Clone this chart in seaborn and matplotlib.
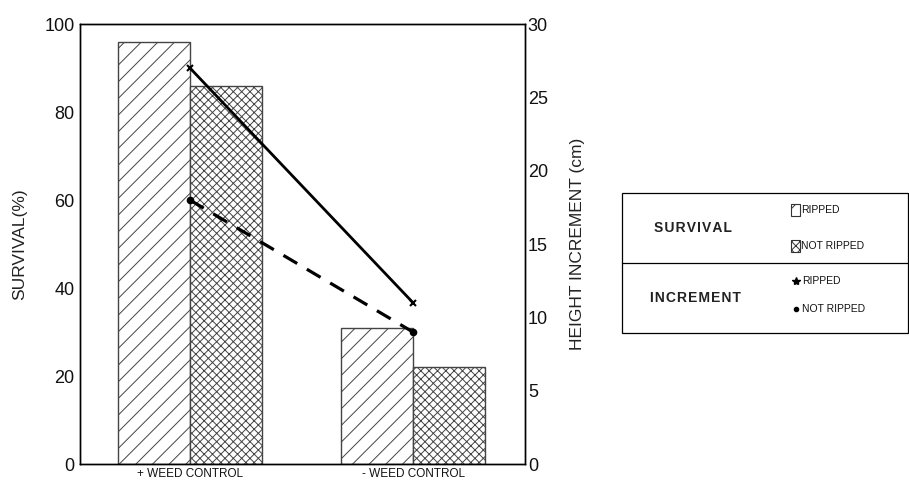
import matplotlib
matplotlib.use("Agg")
import matplotlib.pyplot as plt
import seaborn as sns
import pandas as pd
from matplotlib.patches import Rectangle
from matplotlib.lines import Line2D

categories = ["+ WEED CONTROL", "- WEED CONTROL"]
treatments = ["RIPPED", "NOT RIPPED"]
survival_ripped = [96, 31]
survival_not_ripped = [86, 22]
increment_ripped = [27, 11]
increment_not_ripped = [18, 9]
left_ticks = [0, 20, 40, 60, 80, 100]
right_ticks = [0, 5, 10, 15, 20, 25, 30]

sns.set_theme(style="white")
plt.rcParams['font.family'] = ['Liberation Sans', 'DejaVu Sans']
plt.rcParams['hatch.linewidth'] = 0.7

surv = pd.DataFrame({
    "cat": categories * 2,
    "treat": [treatments[0]] * 2 + [treatments[1]] * 2,
    "val": survival_ripped + survival_not_ripped,
})
inc = pd.DataFrame({
    "cat": categories * 2,
    "treat": [treatments[0]] * 2 + [treatments[1]] * 2,
    "val": increment_ripped + increment_not_ripped,
})

fig = plt.figure(figsize=(9.09, 4.87), dpi=100)
ax = fig.add_axes([0.088, 0.047, 0.4896, 0.9037])
sns.barplot(data=surv, x="cat", y="val", hue="treat", order=categories,
            hue_order=treatments, palette=["white", "white"], width=0.646,
            edgecolor="black", linewidth=1.0, legend=False, ax=ax, errorbar=None)
bars = [p for p in ax.patches if isinstance(p, Rectangle)]
hatches = ["//", "//", "xxxx", "xxxx"]
for p, h in zip(bars, hatches):
    p.set_hatch(h)
    p.set_edgecolor("#444444")

ax.set_ylim(0, 100)
ax.set_yticks(left_ticks)
ax.set_ylabel("SURVIVAL(%)", fontsize=12.5, color="#222222", labelpad=12)
ax.set_xlabel("")
ax.tick_params(axis="y", labelsize=13, length=0, pad=4, colors="#111111")
ax.tick_params(axis="x", labelsize=8.5, length=0, pad=3, colors="#111111")

ax2 = ax.twinx()
sns.pointplot(data=inc, x="cat", y="val", hue="treat", order=categories,
              hue_order=treatments, palette=["black", "black"],
              markers=["x", "o"], linestyles=["-", "--"], markersize=4,
              linewidth=2.0, legend=False, ax=ax2, errorbar=None)
for ln in ax2.lines:
    if ln.get_linestyle() == "--":
        ln.set_dashes((5, 3.5))
        ln.set_linewidth(2.3)
ax2.set_ylim(0, 30)
ax2.set_yticks(right_ticks)
ax2.set_ylabel("HEIGHT INCREMENT (cm)", fontsize=12.5, color="#222222", labelpad=16)
ax2.tick_params(axis="y", labelsize=13, length=0, pad=2, colors="#111111")
ax.set_xlim(-0.493, 1.502)
ax2.set_xlim(-0.493, 1.502)
for a in (ax, ax2):
    for s in a.spines.values():
        s.set_color("black")
        s.set_linewidth(1.0)

# Legend box drawn in figure coordinates
fx = lambda x: x / 909
fy = lambda y: 1 - y / 487
box = Rectangle((fx(622), fy(333)), fx(908) - fx(622), fy(193) - fy(333),
                transform=fig.transFigure, fill=False, edgecolor="black", lw=0.9)
fig.patches.append(box)
fig.add_artist(Line2D([fx(622), fx(908)], [fy(263), fy(263)],
                      transform=fig.transFigure, color="black", lw=0.9))
fig.text(fx(654), fy(228), "S U R V I V A L".replace(" ", "\u200a"), fontsize=10,
         fontweight="bold", ha="left", va="center", color="#222222")
fig.text(fx(650), fy(298), "I N C R E M E N T".replace(" ", "\u200a"), fontsize=10,
         fontweight="bold", ha="left", va="center", color="#222222")
for y, lab, h in [(210, "RIPPED", "//"), (246, "NOT RIPPED", "xxxx")]:
    sq = Rectangle((fx(791), fy(y) - 0.012), fx(9), 0.024, transform=fig.transFigure,
                   facecolor="white", edgecolor="#333333", lw=0.8, hatch=h)
    fig.patches.append(sq)
    fig.text(fx(801), fy(y), lab, fontsize=7.5, ha="left", va="center", color="#111111")
fig.add_artist(Line2D([fx(796)], [fy(281)], transform=fig.transFigure, marker="*",
                      color="black", markersize=6, linestyle="none"))
fig.text(fx(802), fy(281), "RIPPED", fontsize=7.5, ha="left", va="center", color="#111111")
fig.add_artist(Line2D([fx(796)], [fy(309)], transform=fig.transFigure, marker="o",
                      color="black", markersize=3, linestyle="none"))
fig.text(fx(802), fy(309), "NOT RIPPED", fontsize=7.5, ha="left", va="center", color="#111111")

fig.savefig("out.png", dpi=100)
